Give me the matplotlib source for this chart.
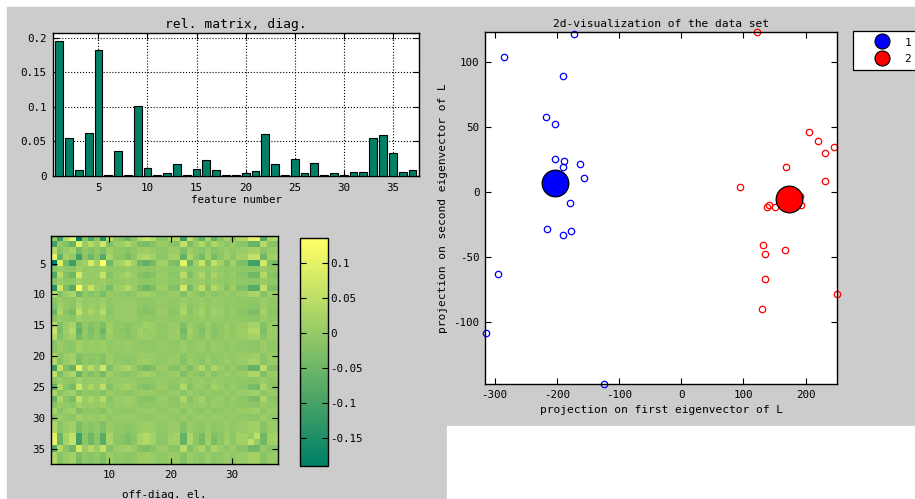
import numpy as np
import matplotlib
matplotlib.use("Agg")
import matplotlib.pyplot as plt  # noqa: E402
from matplotlib.patches import Rectangle  # noqa: E402
from matplotlib.lines import Line2D  # noqa: E402

GRAY = "#cccccc"
TEAL = "#008066"

# relevance matrix diagonal, one bar per feature
features = np.arange(1, 38)
rel_diag = [0.1957, 0.0541, 0.0082, 0.0623, 0.1826, 0.0012, 0.0362, 0.0012,
            0.1010, 0.0116, 0.0012, 0.0034, 0.0164, 0.0012, 0.0097, 0.0230,
            0.0082, 0.0012, 0.0012, 0.0034, 0.0068, 0.0604, 0.0164, 0.0012,
            0.0246, 0.0034, 0.0179, 0.0012, 0.0034, 0.0012, 0.0048, 0.0048,
            0.0541, 0.0590, 0.0329, 0.0048, 0.0082]
# sign of each feature's loading
load_sign = [-1, 1, -1, -1, 1, 1, 1, 1, 1, -1, 1, 1, 1, 1, -1, -1, -1, 1, 1,
             -1, -1, 1, -1, 1, 1, -1, 1, 1, -1, 1, -1, -1, -1, -1, 1, -1, -1]

# 2d projection, class 1 and class 2
blue_x = [-284.6, -172.5, -190.7, -218.0, -203.5, -202.0, -188.6, -190.7, -163.3,
          -156.4, -179.4, -216.4, -190.7, -177.8, -293.6, -314.2, -124.2]
blue_y = [104.3, 121.8, 89.5, 57.9, 52.5, 25.9, 24.3, 19.7, 21.8,
          11.2, -8.5, -28.2, -32.8, -30.0, -63.1, -108.0, -147.7]
red_x = [122.7, 205.7, 220.2, 245.3, 231.0, 169.3, 95.4, 231.0, 137.2, 141.4,
         150.5, 193.4, 190.7, 131.7, 167.7, 134.5, 134.5, 130.1, 250.6]
red_y = [123.5, 46.6, 39.7, 34.6, 30.2, 19.7, 4.3, 8.7, -11.5, -9.5,
         -11.5, -9.5, -2.8, -40.5, -44.4, -47.7, -66.7, -90.0, -78.0]
proto_x = [-203.4, 173.0]
proto_y = [6.9, -5.2]

plt.rcParams["font.family"] = "DejaVu Sans Mono"
plt.rcParams["font.size"] = 7.8
plt.rcParams["axes.unicode_minus"] = False

W, H = 915, 499


def box(x0, y0, x1, y1):
    return [x0 / W, 1 - y1 / H, (x1 - x0) / W, (y1 - y0) / H]


def style(ax, pad=4):
    for sp in ax.spines.values():
        sp.set_color("black")
        sp.set_linewidth(1.0)
    ax.tick_params(direction="in", length=4, width=0.8, top=True, right=True,
                   colors="black", pad=pad)


fig = plt.figure(figsize=(W / 100, H / 100), dpi=100, facecolor="white")
fig.patches.append(Rectangle((7 / W, 0), 1, 1 - 7 / H, transform=fig.transFigure,
                             color=GRAY, zorder=-10))
fig.patches.append(Rectangle((447 / W, 0), 1, (H - 426) / H, transform=fig.transFigure,
                             color="white", zorder=-9))

# --- bar chart of diagonal
ax1 = fig.add_axes(box(53.3, 33.3, 419.3, 175.7))
ax1.bar(features, rel_diag, width=0.8, color=TEAL, edgecolor="black", lw=0.8, zorder=3)
ax1.set_xlim(0.4, 37.7)
ax1.set_ylim(0, 0.2064)
ax1.set_xticks([5, 10, 15, 20, 25, 30, 35])
ax1.set_yticks([0, 0.05, 0.1, 0.15, 0.2])
ax1.set_yticklabels(["0", "0.05", "0.1", "0.15", "0.2"])
ax1.grid(True, color="black", ls=":", lw=0.8, zorder=0)
ax1.set_axisbelow(True)
style(ax1, pad=5)
ax1.set_title("rel. matrix, diag.", pad=4)
ax1.set_xlabel("feature number", labelpad=2)

# --- off-diagonal heat map
sgn = np.array(load_sign, dtype=float)
amp = np.sqrt(np.array(rel_diag))
off = np.outer(sgn * amp, sgn * amp)
np.fill_diagonal(off, 0.0)

ax2 = fig.add_axes(box(51, 235.7, 278.3, 464.3))
im = ax2.imshow(off, cmap=plt.get_cmap("summer", 64), aspect="auto",
                interpolation="nearest", extent=(0.5, 37.5, 37.5, 0.5))
ax2.set_xticks([10, 20, 30])
ax2.set_yticks([5, 10, 15, 20, 25, 30, 35])
style(ax2, pad=4)
ax2.set_xlabel("off-diag. el.", labelpad=7)

cax = fig.add_axes(box(300, 238.3, 328.3, 465.7))
cb = fig.colorbar(im, cax=cax)
cb.set_ticks([-0.15, -0.1, -0.05, 0, 0.05, 0.1])
cb.set_ticklabels(["-0.15", "-0.1", "-0.05", "0", "0.05", "0.1"])
cb.outline.set_edgecolor("black")
cb.outline.set_linewidth(1.0)
cax.tick_params(direction="in", length=4, width=0.8, left=True, right=True,
                labelleft=False, labelright=True, pad=1.5)

# --- scatter of the projection
ax3 = fig.add_axes(box(485, 32.3, 837.3, 384.3))
ax3.plot(blue_x, blue_y, "o", ms=4.6, mfc="none", mec="blue", mew=0.9, clip_on=False)
ax3.plot(red_x, red_y, "o", ms=4.6, mfc="none", mec="red", mew=0.9, clip_on=False)
for px, py, c in zip(proto_x, proto_y, ["blue", "red"]):
    ax3.plot(px, py, "o", ms=19.2, mfc=c, mec="black", mew=0.9, zorder=4)
ax3.set_xlim(-315.3, 251)
ax3.set_ylim(-147.7, 123.1)
ax3.set_xticks([-300, -200, -100, 0, 100, 200])
ax3.set_yticks([-100, -50, 0, 50, 100])
style(ax3, pad=4)
ax3.set_title("2d-visualization of the data set", fontsize=8.1, pad=4)
ax3.set_xlabel("projection on first eigenvector of L", fontsize=8.1, labelpad=4)
ax3.set_ylabel("projection on second eigenvector of L", fontsize=8.1, labelpad=4)

handles = [Line2D([], [], marker="o", ls="none", ms=10.8, mfc=c, mec="black", mew=0.8)
           for c in ["blue", "red"]]
leg = ax3.legend(handles, ["1", "2"], loc="upper left",
                 bbox_to_anchor=(853.3 / W, 1 - 30.7 / H, 0.2, 0),
                 bbox_transform=fig.transFigure, mode="expand", borderaxespad=0,
                 fancybox=False, edgecolor="black", framealpha=1, fontsize=8.1,
                 handlelength=4.0, handleheight=1.0, handletextpad=0.0,
                 labelspacing=0.5, borderpad=0.55)
leg.get_frame().set_linewidth(0.9)

fig.savefig("out.png", dpi=100, facecolor="white")
